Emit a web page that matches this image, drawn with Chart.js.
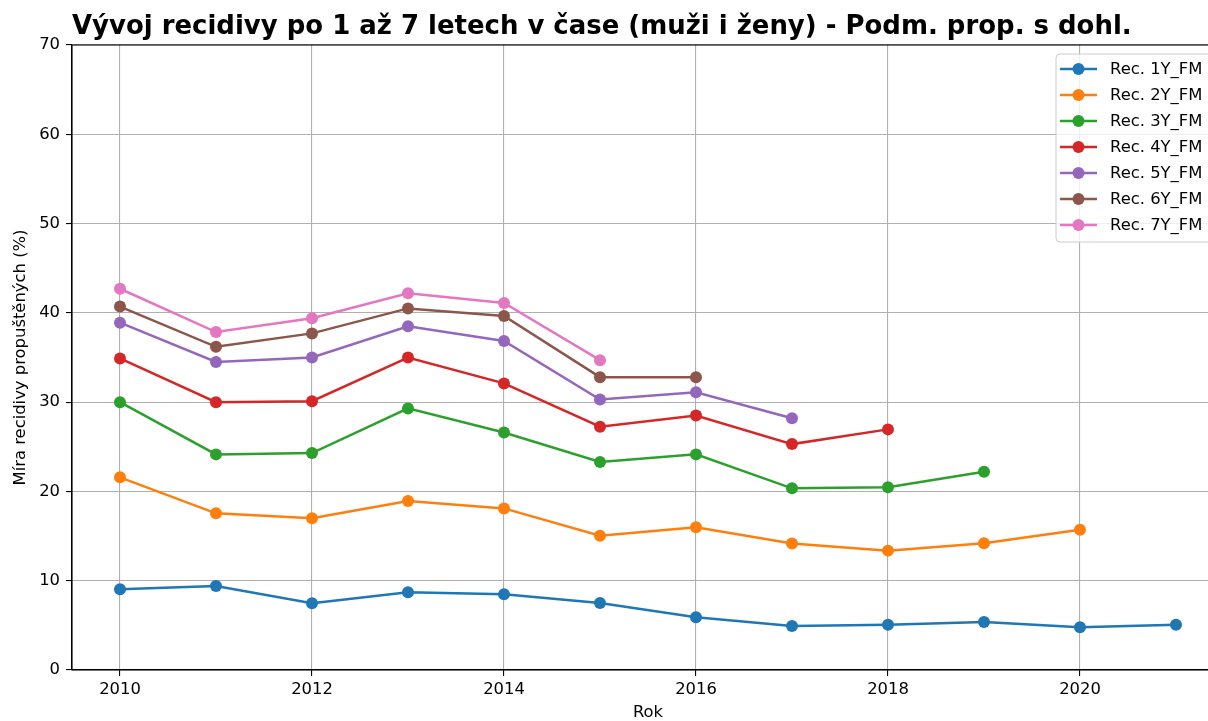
<!DOCTYPE html>
<html>
<head>
<meta charset="utf-8">
<script src="https://cdn.jsdelivr.net/npm/chart.js@4.4.1/dist/chart.umd.min.js"></script>
<style>
  html, body { margin: 0; padding: 0; background: #fff; overflow: hidden; }
  #wrap { width: 1208px; height: 721px; overflow: hidden; }
</style>
</head>
<body>
<div id="wrap"><canvas id="myChart" width="1240" height="721"></canvas></div>
<script>
// Data
const years = [2010, 2011, 2012, 2013, 2014, 2015, 2016, 2017, 2018, 2019, 2020, 2021];
const rec1Y = [9.05, 9.4, 7.47, 8.7, 8.48, 7.5, 5.9, 4.93, 5.08, 5.38, 4.78, 5.08];
const rec2Y = [21.58, 17.55, 16.99, 18.93, 18.1, 15.04, 16.0, 14.18, 13.37, 14.2, 15.7];
const rec3Y = [30.0, 24.15, 24.3, 29.3, 26.6, 23.3, 24.15, 20.35, 20.46, 22.2];
const rec4Y = [34.9, 30.0, 30.1, 35.0, 32.1, 27.25, 28.5, 25.3, 26.95];
const rec5Y = [38.9, 34.5, 35.0, 38.5, 36.85, 30.3, 31.1, 28.2];
const rec6Y = [40.7, 36.2, 37.7, 40.5, 39.65, 32.8, 32.8];
const rec7Y = [42.7, 37.85, 39.4, 42.2, 41.1, 34.7];
const seriesNames = ['Rec. 1Y_FM', 'Rec. 2Y_FM', 'Rec. 3Y_FM', 'Rec. 4Y_FM', 'Rec. 5Y_FM', 'Rec. 6Y_FM', 'Rec. 7Y_FM'];
const xTicks = [2010, 2012, 2014, 2016, 2018, 2020];
const yTicks = [0, 10, 20, 30, 40, 50, 60, 70];

const colors = ['#1f77b4', '#ff7f0e', '#2ca02c', '#d62728', '#9467bd', '#8c564b', '#e377c2'];
const allSeries = [rec1Y, rec2Y, rec3Y, rec4Y, rec5Y, rec6Y, rec7Y];
const FONT = 'DejaVu Sans';
const TITLE = 'Vývoj recidivy po 1 až 7 letech v čase (muži i ženy) - Podm. prop. s dohl.';

const datasets = allSeries.map(function(vals, i) {
    return {
        label: seriesNames[i],
        data: vals.map(function(v, j) { return { x: years[j], y: v }; }),
        borderColor: colors[i],
        backgroundColor: colors[i],
        pointBackgroundColor: colors[i],
        pointBorderWidth: 0,
        pointRadius: 6,
        borderWidth: 2.5,
        tension: 0,
        order: allSeries.length - i // later series on top, like matplotlib
    };
});

// Title, axis titles, frame and legend drawn inside the plot
const decorations = {
    id: 'decorations',
    afterDraw(chart) {
        const c = chart.ctx;
        const a = chart.chartArea;
        c.save();
        // frame
        c.strokeStyle = '#000';
        c.lineWidth = 1.1;
        c.strokeRect(a.left, a.top, a.right - a.left, a.bottom - a.top);
        // title, sized so it spans like the reference
        c.fillStyle = '#000';
        c.font = 'bold 26px "' + FONT + '"';
        let w = c.measureText(TITLE).width;
        let size = 26 * 1060 / w;
        c.font = 'bold ' + size.toFixed(2) + 'px "' + FONT + '"';
        c.textAlign = 'left';
        c.textBaseline = 'alphabetic';
        c.fillText(TITLE, a.left, 34);
        // axis titles
        c.font = '16.4px "' + FONT + '"';
        c.textAlign = 'center';
        c.textBaseline = 'middle';
        c.fillText('Rok', (a.left + a.right) / 2, 713);
        c.translate(21, (a.top + a.bottom) / 2);
        c.rotate(-Math.PI / 2);
        c.fillText('Míra recidivy propuštěných (%)', 0, 0);
        c.restore();

        // legend
        c.save();
        const lx = 1056, ly = 54, lw = 160, lh = 188, r = 4;
        c.beginPath();
        c.moveTo(lx + r, ly);
        c.arcTo(lx + lw, ly, lx + lw, ly + lh, r);
        c.arcTo(lx + lw, ly + lh, lx, ly + lh, r);
        c.arcTo(lx, ly + lh, lx, ly, r);
        c.arcTo(lx, ly, lx + lw, ly, r);
        c.closePath();
        c.fillStyle = 'rgba(255,255,255,0.8)';
        c.fill();
        c.strokeStyle = '#cccccc';
        c.lineWidth = 1;
        c.stroke();
        c.font = '16.4px "' + FONT + '"';
        c.textAlign = 'left';
        c.textBaseline = 'middle';
        seriesNames.forEach(function(name, i) {
            const y = 69 + i * 26;
            c.strokeStyle = colors[i];
            c.lineWidth = 2.5;
            c.beginPath();
            c.moveTo(1060, y);
            c.lineTo(1097, y);
            c.stroke();
            c.fillStyle = colors[i];
            c.beginPath();
            c.arc(1078.5, y, 6, 0, Math.PI * 2);
            c.fill();
            c.fillStyle = '#000';
            c.fillText(name, 1110, y + 1);
        });
        c.restore();
    }
};

const ctx = document.getElementById('myChart').getContext('2d');
const myChart = new Chart(ctx, {
    type: 'line',
    data: { datasets: datasets },
    options: {
        responsive: false,
        animation: false,
        layout: { padding: { left: 0, right: 16, top: 45, bottom: 0 } },
        plugins: {
            legend: { display: false },
            title: { display: false },
            tooltip: { enabled: false }
        },
        scales: {
            x: {
                type: 'linear',
                min: 2009.5,
                max: 2021.5,
                afterBuildTicks: function(scale) {
                    scale.ticks = xTicks.map(function(v) { return { value: v }; });
                },
                afterFit: function(scale) { scale.height = 51; },
                ticks: {
                    color: '#000',
                    font: { family: FONT, size: 16.4 },
                    padding: 4,
                    maxRotation: 0,
                    callback: function(v) { return String(v); }
                },
                grid: { color: '#b0b0b0', lineWidth: 1.1, tickLength: 6, tickColor: '#000' },
                border: { display: true, color: '#000', width: 1.1 }
            },
            y: {
                min: 0,
                max: 70,
                afterBuildTicks: function(scale) {
                    scale.ticks = yTicks.map(function(v) { return { value: v }; });
                },
                afterFit: function(scale) { scale.width = 72; },
                ticks: {
                    color: '#000',
                    font: { family: FONT, size: 16.4 },
                    padding: 6
                },
                grid: { color: '#b0b0b0', lineWidth: 1.1, tickLength: 6, tickColor: '#000' },
                border: { display: true, color: '#000', width: 1.1 }
            }
        }
    },
    plugins: [decorations]
});
</script>
</body>
</html>
